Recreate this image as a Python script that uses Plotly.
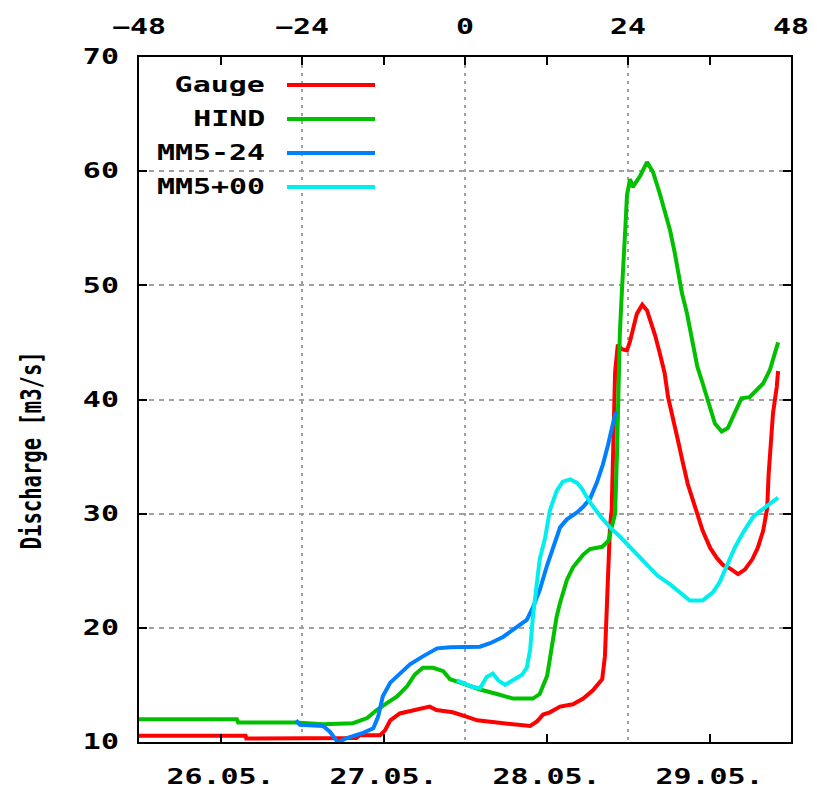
import json
import plotly.graph_objects as go

# Hours relative to 27.05. 12:00 and discharge in m3/s
gauge_hours = [-48, -32.3, -32.2, -16, -15.5, -12.5, -11.8, -11, -9.6, -7.2, -5.2, -4.2, -1.8,
               0.3, 1.8, 4.7, 9.6, 10.6, 11.5, 12.5, 14.0, 15.9, 17.4, 18.8, 20.2, 20.6, 20.9,
               21.35, 21.6, 21.8, 22.1, 22.5, 23.1, 23.85, 24.3, 25.3, 26.1, 26.8, 28.0, 28.7,
               29.4, 29.9, 30.6, 31.4, 32.1, 32.8, 33.6, 34.3, 35.0, 36.1, 37.1, 38.0, 39.0,
               40.2, 41.2, 42.3, 43.1, 43.9, 44.5, 44.7, 45.0, 45.35, 45.9, 46.1]
gauge = [10.55, 10.55, 10.3, 10.35, 10.6, 10.6, 11.0, 11.9, 12.5, 12.8, 13.1, 12.8, 12.6,
         12.2, 11.9, 11.7, 11.4, 11.8, 12.4, 12.6, 13.1, 13.3, 13.8, 14.5, 15.5, 17.5, 22.2,
         28.9, 30.3, 35.7, 42.4, 44.8, 44.4, 44.3, 45.1, 47.5, 48.3, 47.8, 45.6, 44.0,
         42.3, 40.2, 38.5, 36.3, 34.4, 32.6, 31.1, 29.7, 28.5, 27.0, 26.1, 25.5, 25.2,
         24.7, 25.1, 26.0, 27.0, 28.5, 30.5, 33.4, 35.8, 38.8, 41.1, 42.5]

hind_hours = [-48, -33.6, -33.4, -24.9, -20.9, -16.5, -14.4, -13.0, -11.5, -10.0, -8.5, -7.4,
              -6.2, -4.7, -3.2, -2.2, -0.7, 2.2, 4.7, 7.1, 10.0, 11.0, 12.1, 12.5, 13.0, 13.5,
              14.0, 15.0, 15.9, 17.4, 18.4, 20.2, 21.1, 21.6, 22.1, 22.4, 22.5, 22.8, 23.1,
              23.3, 23.6, 23.85, 24.3, 24.7, 25.8, 26.8, 27.7, 28.7, 29.4, 30.2, 30.9, 31.4,
              31.95, 32.7, 33.4, 34.2, 35.0, 35.8, 36.8, 37.8, 38.7, 39.7, 40.7, 41.9, 42.7,
              43.9, 44.9, 45.6, 46.1]
hind = [12.0, 12.0, 11.7, 11.7, 11.55, 11.65, 12.1, 12.8, 13.4, 14.0, 14.9, 15.9,
        16.5, 16.5, 16.2, 15.5, 15.2, 14.6, 14.2, 13.8, 13.8, 14.2, 15.8, 17.2, 18.9, 21.0,
        22.2, 24.2, 25.3, 26.4, 26.9, 27.1, 27.6, 29.0, 30.0, 35.7, 39.1, 45.8, 49.5,
        52.5, 54.9, 57.9, 59.3, 58.6, 59.6, 60.8, 59.9, 58.0, 56.5, 54.8, 52.8, 51.0,
        49.3, 47.5, 45.2, 42.9, 41.4, 39.7, 37.9, 37.2, 37.5, 38.8, 40.1, 40.2, 40.7,
        41.4, 42.6, 44.0, 45.0]

mm5_m24_hours = [-24.9, -24.3, -20.9, -19.9, -18.7, -17.4, -15.0, -13.5, -12.8, -12.1, -11.0,
                 -9.6, -8.1, -6.2, -4.1, -2.2, 0.3, 2.2, 3.7, 5.6, 7.7, 9.1, 10.0, 11.0, 12.1,
                 13.0, 14.0, 15.0, 16.5, 17.4, 18.4, 19.4, 20.3, 21.05, 21.6, 22.1, 22.4]
mm5_m24 = [11.9, 11.5, 11.4, 10.9, 9.95, 10.35, 10.8, 11.2, 12.2, 14.0, 15.2,
           16.0, 16.8, 17.5, 18.2, 18.3, 18.3, 18.35, 18.65, 19.2, 20.1, 20.7, 21.8, 23.3, 25.5,
           27.2, 28.8, 29.5, 30.1, 30.6, 31.3, 32.7, 34.3, 36.0, 37.4, 38.7, 38.9]

mm5_p00_hours = [-1.2, 1.2, 2.2, 3.2, 4.1, 4.9, 5.9, 7.1, 8.4, 9.1, 9.6, 10.0, 10.6, 11.0,
                 11.8, 12.5, 13.5, 14.4, 15.5, 16.5, 17.2, 18.4, 19.9, 21.35, 22.8, 24.3,
                 26.2, 28.3, 30.2, 31.7, 33.1, 35.0, 36.5, 37.5, 38.6, 39.7, 40.9, 42.4,
                 43.4, 44.6, 46.1]
mm5_p00 = [15.4, 14.8, 14.7, 15.7, 16.0, 15.4, 15.0, 15.4, 15.9, 16.5, 18.1, 21.0, 23.9, 26.0,
           27.9, 30.3, 32.0, 32.8, 33.0, 32.7, 32.2, 31.0, 29.8, 28.8, 28.0, 27.1,
           25.9, 24.6, 23.8, 23.1, 22.4, 22.4, 23.1, 24.0, 25.6, 27.0, 28.3, 29.7,
           30.2, 30.7, 31.4]

series_names = ["Gauge", "HIND", "MM5-24", "MM5+00"]
series_colors = ["#ff0000", "#00c000", "#0080ff", "#00eeee"]

top_ticks = [-48, -24, 0, 24, 48]
date_ticks = [-36, -12, 12, 36]
date_labels = ["26.05.", "27.05.", "28.05.", "29.05."]
y_ticks = [10, 20, 30, 40, 50, 60, 70]
y_title = "Discharge [m3/s]"

FONT = "DejaVu Sans Mono"
FSIZE = 20.5
W, H = 817, 796
L, R, T, B = 139, 26, 57, 54
plot_w, plot_h = W - L - R, H - T - B

fig = go.Figure()
series = [(gauge_hours, gauge), (hind_hours, hind), (mm5_m24_hours, mm5_m24), (mm5_p00_hours, mm5_p00)]
for (hx, hy), name, col in zip(series, series_names, series_colors):
    fig.add_trace(go.Scatter(x=hx, y=hy, mode="lines", name=name,
                             line=dict(color=col, width=4), showlegend=False))

# empty trace so the top hour axis is drawn
fig.add_trace(go.Scatter(x=[-48, 48], y=[None, None], xaxis="x2", mode="lines",
                         showlegend=False, hoverinfo="skip"))


def px_x(p):
    return (p - L) / plot_w


def px_y(p):
    return (H - B - p) / plot_h


text_font = dict(family=FONT, size=FSIZE, color="black", weight="bold")

# key block: right-aligned names with line samples
for i, (name, col) in enumerate(zip(series_names, series_colors)):
    yy = 85 + 34 * i
    fig.add_annotation(x=px_x(266), y=px_y(yy), xref="paper", yref="paper", text=name,
                       showarrow=False, xanchor="right", yanchor="middle", align="right",
                       borderpad=0, font=text_font)
    fig.add_shape(type="line", xref="paper", yref="paper", x0=px_x(287), x1=px_x(375),
                  y0=px_y(yy), y1=px_y(yy), line=dict(color=col, width=4))

# vertical axis title (larger face, squeezed back to the run length below)
fig.add_annotation(x=px_x(31), y=px_y(451), xref="paper", yref="paper", text=y_title,
                   showarrow=False, textangle=-90, xanchor="center", yanchor="middle",
                   font=dict(family=FONT, size=29, color="black", weight="bold"))

fig.update_layout(
    width=W, height=H,
    margin=dict(l=L, r=R, t=T, b=B, autoexpand=False),
    paper_bgcolor="white", plot_bgcolor="white",
    xaxis=dict(range=[-48, 48], tickvals=date_ticks, ticktext=date_labels,
               ticks="inside", ticklen=8, tickwidth=2, tickcolor="black",
               showline=True, linecolor="black", linewidth=2, showgrid=False,
               zeroline=False, tickfont=text_font, ticklabelstandoff=15,
               automargin=False),
    xaxis2=dict(range=[-48, 48], overlaying="x", side="top", tickvals=top_ticks,
                ticks="inside", ticklen=8, tickwidth=2, tickcolor="black",
                minor=dict(dtick=12, tick0=0, ticks="inside", ticklen=8, tickwidth=2,
                           tickcolor="black", showgrid=False),
                showline=True, linecolor="black", linewidth=2,
                showgrid=True, gridcolor="#a0a0a0", gridwidth=2, griddash="3px,5px",
                zeroline=False, tickfont=text_font, ticklabelstandoff=13,
                automargin=False),
    yaxis=dict(range=[10, 70], tickvals=y_ticks, ticks="inside", ticklen=8, tickwidth=2,
               tickcolor="black", showline=True, linecolor="black", linewidth=2,
               mirror="ticks", showgrid=True, gridcolor="#a0a0a0", gridwidth=2,
               griddash="5px,5px", zeroline=False, tickfont=text_font,
               ticklabelstandoff=14, automargin=False),
)

# widen the horizontal labels to the broad fixed-width face of the chart,
# and fit the vertical title to its run length
stretch_js = """
var gd = document.getElementById('{plot_id}');
var names = %s;
var title = %s;
var k = 1.46;
function fit(t, len) {
  t.setAttribute('textLength', len.toFixed(2));
  t.setAttribute('lengthAdjust', 'spacingAndGlyphs');
}
function widen(t) { fit(t, t.getComputedTextLength() * k); }
gd.querySelectorAll('.xtick text, .x2tick text, .ytick text').forEach(widen);
gd.querySelectorAll('.annotation-text').forEach(function (t) {
  if (names.indexOf(t.textContent) >= 0) { widen(t); }
  else if (t.textContent === title) { fit(t, 198); }
});
""" % (json.dumps(series_names), json.dumps(y_title))

fig.write_html("out.html", post_script=stretch_js)
